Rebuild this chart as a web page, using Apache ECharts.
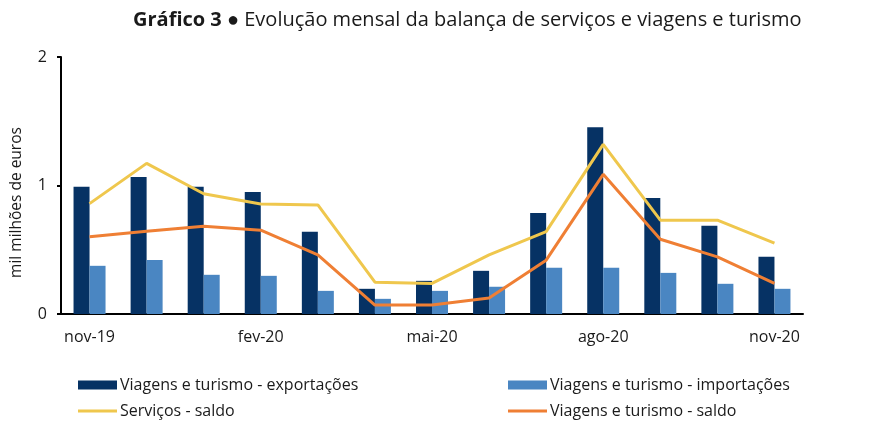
<!DOCTYPE html>
<html><head><meta charset="utf-8">
<script src="https://cdn.jsdelivr.net/npm/echarts@6/dist/echarts.min.js"></script>
<style>html,body{margin:0;padding:0;background:#fff}#c{width:869px;height:425px}</style>
</head><body><div id="c"></div>
<script>
const categories = ['nov-19','dez-19','jan-20','fev-20','mar-20','abr-20','mai-20','jun-20','jul-20','ago-20','set-20','out-20','nov-20'];
const vtExport = [0.99,1.066,0.99,0.95,0.64,0.196,0.258,0.336,0.786,1.454,0.903,0.686,0.445];
const vtImport = [0.375,0.42,0.305,0.297,0.18,0.118,0.18,0.212,0.36,0.36,0.32,0.235,0.196];
const servSaldo = [0.859,1.172,0.936,0.856,0.849,0.248,0.238,0.46,0.641,1.32,0.73,0.73,0.551];
const vtSaldo = [0.602,0.644,0.683,0.652,0.46,0.07,0.07,0.124,0.419,1.087,0.582,0.445,0.238];
const yTicks = [0,1,2];

const F = 'Open Sans';
const TXT = '#1a1a1a';
const chart = echarts.init(document.getElementById('c'));
function leg(name, left, top, h){
  return {data:[name], left:left, top:top, itemWidth:39, itemHeight:h, icon:'rect', padding:0, itemGap:0,
    textStyle:{fontFamily:F,fontSize:16,color:TXT,padding:[0,0,0,-2]}, selectedMode:false};
}
chart.setOption({
  animation:false,
  title:{text:'{b|Gráfico 3} ● Evolução mensal da balança de serviços e viagens e turismo', left:128, top:5,
    textStyle:{fontFamily:F,fontSize:20,fontWeight:'normal',color:TXT,rich:{b:{fontFamily:F,fontSize:20,fontWeight:'bold',color:TXT}}}},
  grid:{left:61,right:66,top:57,bottom:111},
  legend:[
    leg('Viagens e turismo - exportações',78,377,9),
    leg('Viagens e turismo - importações',508,377,9),
    leg('Serviços - saldo',78,403,3),
    leg('Viagens e turismo - saldo',508,403,3)
  ],
  xAxis:{type:'category',data:categories,
    axisLine:{lineStyle:{color:'#000',width:2}},axisTick:{show:false},
    axisLabel:{interval:2,fontFamily:F,fontSize:16,color:TXT,margin:15}},
  yAxis:{type:'value',min:0,max:2,interval:1,
    name:'mil milhões de euros',nameLocation:'middle',nameRotate:90,nameGap:36,
    nameTextStyle:{fontFamily:F,fontSize:15.5,color:TXT,padding:[0,34,0,0]},
    axisLine:{show:true,lineStyle:{color:'#000',width:2}},
    axisTick:{show:true,length:4,lineStyle:{color:'#000',width:2}},
    splitLine:{show:false},
    axisLabel:{fontFamily:F,fontSize:16,color:TXT,margin:14,formatter:v=>yTicks.includes(v)?String(v):''}},
  series:[
    {name:'Viagens e turismo - exportações',type:'bar',data:vtExport,barWidth:16,barGap:'0%',itemStyle:{color:'#063264'}},
    {name:'Viagens e turismo - importações',type:'bar',data:vtImport,barWidth:16,barGap:'0%',itemStyle:{color:'#4a86c2'}},
    {name:'Serviços - saldo',type:'line',data:servSaldo,symbol:'none',lineStyle:{color:'#efc74d',width:3},itemStyle:{color:'#efc74d'}},
    {name:'Viagens e turismo - saldo',type:'line',data:vtSaldo,symbol:'none',lineStyle:{color:'#ef7f34',width:3},itemStyle:{color:'#ef7f34'}}
  ]
});
</script></body></html>
